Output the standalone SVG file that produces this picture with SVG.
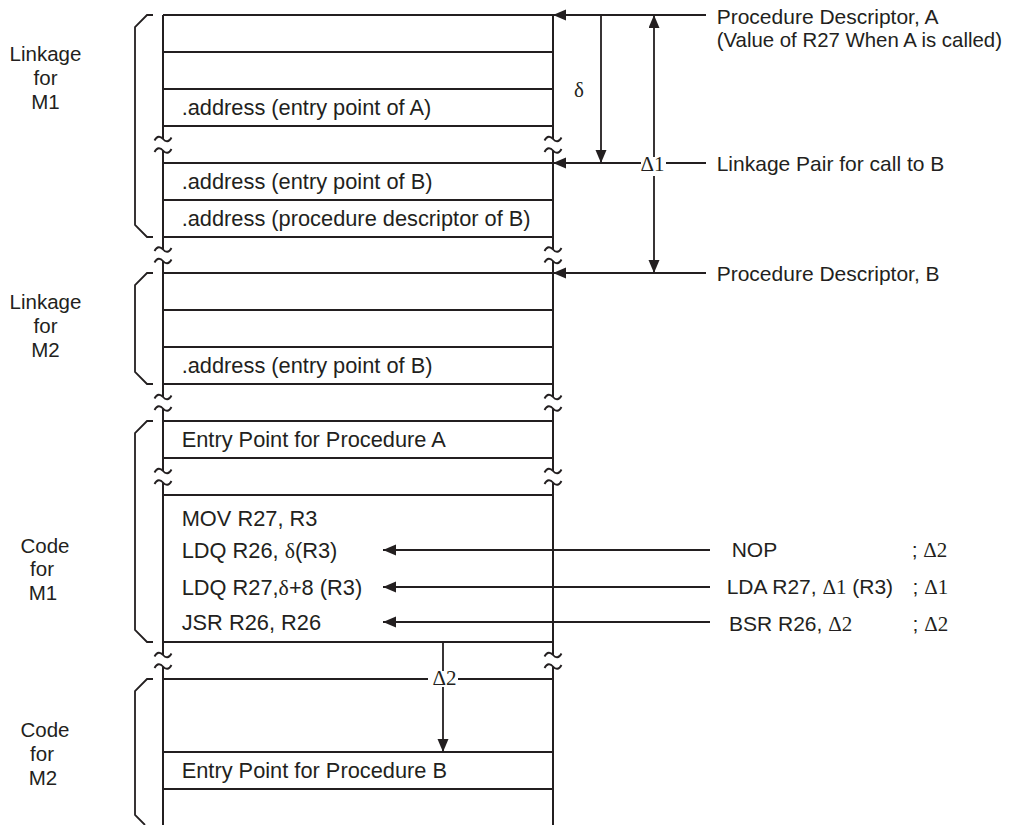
<svg xmlns="http://www.w3.org/2000/svg" width="1011" height="825" viewBox="0 0 1011 825">
<style>
.ln{stroke:#231f20;stroke-width:2;fill:none}
.br{stroke:#231f20;stroke-width:1.8;fill:none}
.t{font-family:"Liberation Sans",Arial,sans-serif;font-size:21px;fill:#231f20}
.c{font-family:"Liberation Sans",Arial,sans-serif;font-size:21.8px;fill:#231f20}
.lab{font-family:"Liberation Sans",Arial,sans-serif;font-size:20.5px;fill:#231f20;text-anchor:middle}
.g{font-family:"Liberation Serif","Times New Roman",serif}
.gt{font-family:"Liberation Serif","Times New Roman",serif;font-size:21px;fill:#231f20}
.ar{stroke:#231f20;stroke-width:1.8;fill:none}
</style>
<defs>
<marker id="ah" markerUnits="userSpaceOnUse" markerWidth="14" markerHeight="12" refX="13" refY="5.5" orient="auto">
<path d="M0,0 L13,5.5 L0,11 z" fill="#231f20"/>
</marker>
<path id="tl" d="M-8.5,1.5 C-6,-3.5 -2.5,-3 0,0 C2.5,3 6,3.5 8.5,-1.5" class="br"/>
</defs>

<g id="column">
<path class="ln" d="M163,15 V139 M163,150.5 V249.5 M163,261 V397 M163,408.5 V471 M163,482.5 V655 M163,666.5 V825"/>
<path class="ln" d="M553,15 V139 M553,150.5 V249.5 M553,261 V397 M553,408.5 V471 M553,482.5 V655 M553,666.5 V825"/>
<path class="ln" d="M163,52 H553 M163,89 H553 M163,126 H553 M163,163 H553 M163,200 H553 M163,237 H553 M163,273 H553 M163,310 H553 M163,347 H553 M163,384 H553 M163,421 H553 M163,458 H553 M163,495 H553 M163,642 H553 M163,679 H428 M458,679 H553 M163,752 H553 M163,789 H553"/>
<path class="ln" d="M163,15 H553"/>
</g>

<g id="breaks">
<use href="#tl" x="163" y="139"/><use href="#tl" x="163" y="150.5"/>
<use href="#tl" x="553" y="139"/><use href="#tl" x="553" y="150.5"/>
<use href="#tl" x="163" y="249.5"/><use href="#tl" x="163" y="261"/>
<use href="#tl" x="553" y="249.5"/><use href="#tl" x="553" y="261"/>
<use href="#tl" x="163" y="397"/><use href="#tl" x="163" y="408.5"/>
<use href="#tl" x="553" y="397"/><use href="#tl" x="553" y="408.5"/>
<use href="#tl" x="163" y="471"/><use href="#tl" x="163" y="482.5"/>
<use href="#tl" x="553" y="471"/><use href="#tl" x="553" y="482.5"/>
<use href="#tl" x="163" y="655"/><use href="#tl" x="163" y="666.5"/>
<use href="#tl" x="553" y="655"/><use href="#tl" x="553" y="666.5"/>
</g>

<g id="row-entryA-addr"><text class="c" x="181.7" y="115">.address (entry point of A)</text></g>
<g id="row-entryB-addr"><text class="c" x="181.7" y="189">.address (entry point of B)</text></g>
<g id="row-pdB-addr"><text class="c" x="181.7" y="226">.address (procedure descriptor of B)</text></g>
<g id="row-m2-entryB-addr"><text class="c" x="181.7" y="373">.address (entry point of B)</text></g>
<g id="row-entryA"><text class="c" x="181.7" y="447">Entry Point for Procedure A</text></g>
<g id="row-code-m1">
<text class="c" x="181.7" y="525.5">MOV R27, R3</text>
<text class="c" x="181.7" y="557.5">LDQ R26, <tspan class="g">δ</tspan>(R3)</text>
<text class="c" x="181.7" y="594.5">LDQ R27,<tspan class="g">δ</tspan>+8 (R3)</text>
<text class="c" x="181.7" y="629.5">JSR R26, R26</text>
</g>
<g id="row-entryB"><text class="c" x="181.7" y="778">Entry Point for Procedure B</text></g>

<g id="linkage-m1">
<path class="br" d="M153,15 H147 L135,27 V225 L147,237 H153"/>
<text class="lab" x="45.5" y="61">Linkage</text>
<text class="lab" x="45.5" y="85">for</text>
<text class="lab" x="45.5" y="109">M1</text>
</g>
<g id="linkage-m2">
<path class="br" d="M153,273 H147 L135,285 V372 L147,384 H153"/>
<text class="lab" x="45.5" y="309">Linkage</text>
<text class="lab" x="45.5" y="333">for</text>
<text class="lab" x="45.5" y="357">M2</text>
</g>
<g id="code-m1">
<path class="br" d="M153,421 H147 L135,433 V630 L147,642 H153"/>
<text class="lab" x="45" y="553">Code</text>
<text class="lab" x="42" y="576">for</text>
<text class="lab" x="43" y="600">M1</text>
</g>
<g id="code-m2">
<path class="br" d="M153,679 H147 L135,691 V815 L145,825"/>
<text class="lab" x="45" y="737">Code</text>
<text class="lab" x="42" y="761">for</text>
<text class="lab" x="43" y="785">M2</text>
</g>

<g id="pd-a"><text class="t" x="716.7" y="23.5">Procedure Descriptor, A</text>
<text class="t" x="716.7" y="47" style="font-size:20.4px">(Value of R27 When A is called)</text></g>
<g id="lp-b"><text class="t" x="716.7" y="170.5">Linkage Pair for call to B</text></g>
<g id="pd-b"><text class="t" x="716.7" y="280.5">Procedure Descriptor, B</text></g>

<g id="instr-nop"><text class="t" x="731.7" y="556.5">NOP</text><text class="t" x="911.7" y="556.5">; <tspan class="g">Δ2</tspan></text></g>
<g id="instr-lda"><text class="t" x="726.7" y="594">LDA R27, <tspan class="g">Δ1</tspan> (R3)</text><text class="t" x="912.5" y="594">; <tspan class="g">Δ1</tspan></text></g>
<g id="instr-bsr"><text class="t" x="729" y="631">BSR R26, <tspan class="g">Δ2</tspan></text><text class="t" x="912.5" y="631">; <tspan class="g">Δ2</tspan></text></g>

<g id="connectors">
<path class="ar" d="M706,15 H553" marker-end="url(#ah)"/>
<path class="ar" d="M706,163 H666"/>
<path class="ar" d="M641,163 H553" marker-end="url(#ah)"/>
<path class="ar" d="M706,273 H553" marker-end="url(#ah)"/>
<path class="ar" d="M601,15 V163" marker-end="url(#ah)"/>
<path class="ar" d="M654,157 V15" marker-end="url(#ah)"/>
<path class="ar" d="M654,176 V273" marker-end="url(#ah)"/>
<text class="gt" x="579" y="97" text-anchor="middle">δ</text>
<text class="gt" x="652.5" y="170.5" text-anchor="middle">Δ1</text>
<path class="ar" d="M710,550 H383" marker-end="url(#ah)"/>
<path class="ar" d="M710,587 H383" marker-end="url(#ah)"/>
<path class="ar" d="M710,622 H383" marker-end="url(#ah)"/>
<path class="ar" d="M443,642 V671"/>
<path class="ar" d="M443,687 V752" marker-end="url(#ah)"/>
<text class="gt" x="444.5" y="684.5" text-anchor="middle">Δ2</text>
</g>
</svg>
